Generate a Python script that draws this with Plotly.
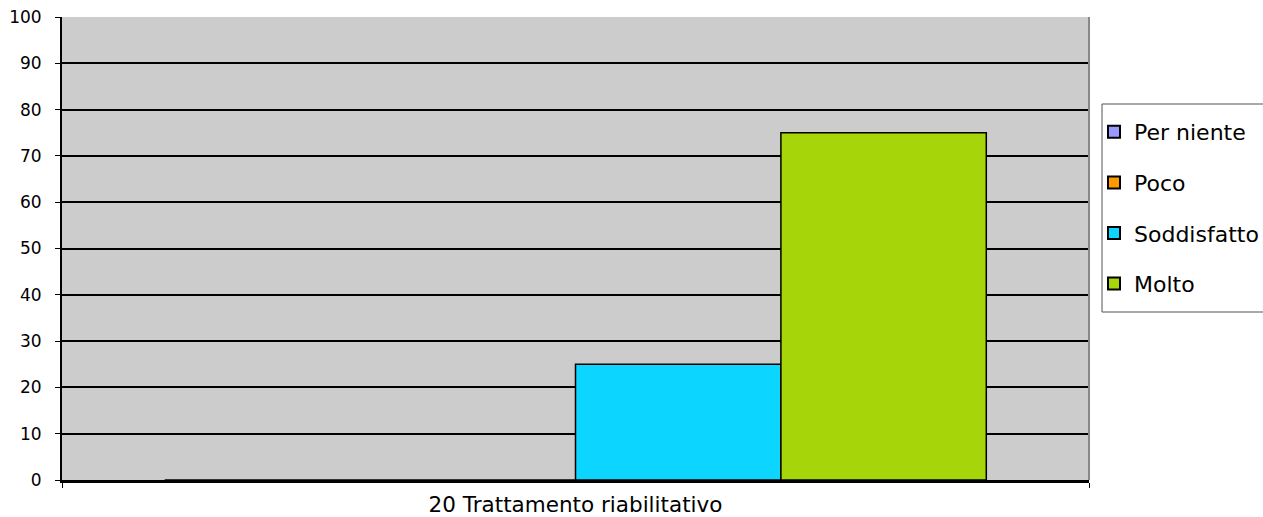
import plotly.graph_objects as go

# Survey item and response categories
category = ["20 Trattamento riabilitativo"]
series_names = ["Per niente", "Poco", "Soddisfatto", "Molto"]
series_values = [[0], [0], [25], [75]]
series_colors = ["#9999FF", "#FF9900", "#0CD5FF", "#A6D609"]
y_ticks = [0, 10, 20, 30, 40, 50, 60, 70, 80, 90, 100]

FONT = "DejaVu Sans, Verdana, sans-serif"

fig = go.Figure()
for name, vals, color in zip(series_names, series_values, series_colors):
    fig.add_trace(go.Bar(
        name=name,
        x=[0] * len(vals),
        y=vals,
        marker=dict(color=color, line=dict(color="#000000", width=1.5)),
        legendgroup=name,
    ))

fig.update_layout(
    width=1263,
    height=517,
    margin=dict(l=62, r=174, t=17, b=37, autoexpand=False),
    paper_bgcolor="#FFFFFF",
    plot_bgcolor="#CCCCCC",
    barmode="group",
    bargap=0.2,
    bargroupgap=0,
    font=dict(family=FONT, color="#000000"),
    showlegend=True,
    legend=dict(
        xref="container", yref="container",
        x=1094 / 1263, xanchor="left",
        y=1 - 111 / 517, yanchor="top",
        bgcolor="rgba(0,0,0,0)",
        borderwidth=0,
        font=dict(size=22, family=FONT),
        traceorder="grouped",
        tracegroupgap=19,
        itemsizing="constant",
    ),
    xaxis=dict(
        range=[-0.5, 0.5],
        tickvals=[0],
        ticktext=category,
        ticks="outside",
        ticklen=3,
        tickcolor="rgba(0,0,0,0)",
        tickfont=dict(size=21.5, family=FONT),
        showgrid=False,
        zeroline=False,
        showline=True,
        linecolor="#000000",
        linewidth=3,
        automargin=False,
        minor=dict(tickvals=[-0.5, 0.5], ticks="outside", ticklen=5,
                   tickcolor="#000000", tickwidth=1, showgrid=False),
    ),
    yaxis=dict(
        range=[0, 100],
        tickvals=y_ticks,
        ticks="outside",
        ticklen=5,
        tickcolor="#000000",
        tickwidth=1,
        tickfont=dict(size=17, family=FONT),
        showgrid=True,
        gridcolor="#000000",
        gridwidth=2,
        zeroline=False,
        showline=True,
        linecolor="#000000",
        linewidth=2,
        automargin=False,
        ticklabelstandoff=10,
    ),
)

# Grey border on the right side of the plotting area
fig.add_shape(type="line", xref="paper", yref="paper", x0=1, x1=1, y0=0, y1=1,
              line=dict(color="#888888", width=2))

# Legend frame
fig.add_shape(type="rect", xref="paper", yref="paper",
              x0=(1102 - 62) / 1027, x1=(1275 - 62) / 1027,
              y0=(480 - 312) / 463, y1=(480 - 104) / 463,
              line=dict(color="#555555", width=1), fillcolor="rgba(0,0,0,0)",
              layer="below")

fig.write_html("out.html")
